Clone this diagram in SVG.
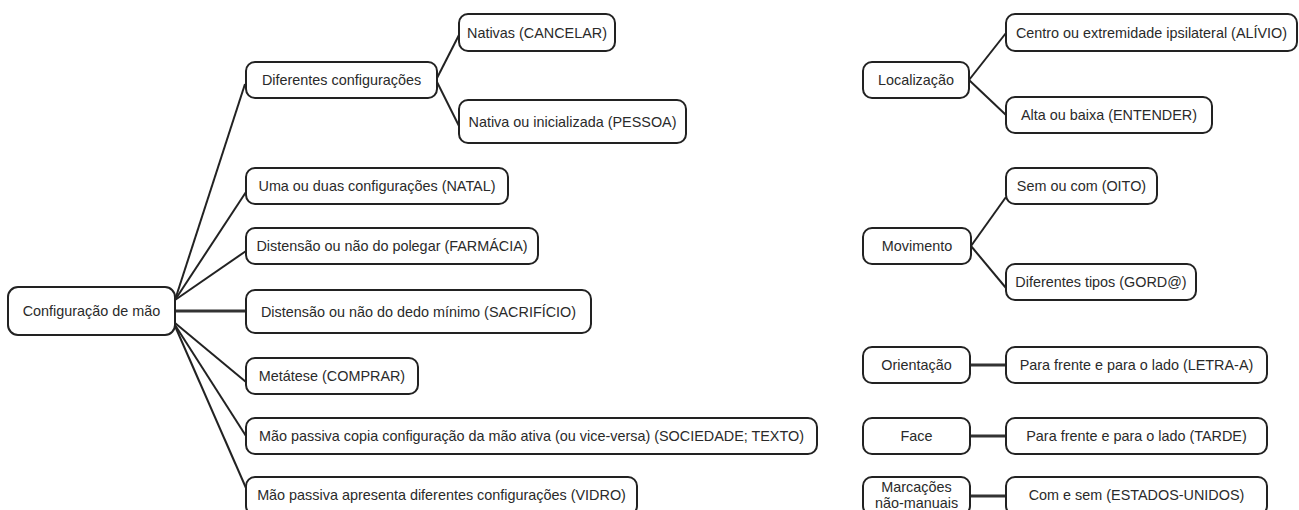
<svg xmlns="http://www.w3.org/2000/svg" width="1299" height="510" viewBox="0 0 1299 510">
<style>
.box{fill:#fff;stroke:#222;stroke-width:2}
.t{font-family:"Liberation Sans",Arial,sans-serif;font-size:14.4px;fill:#2a2a2a;text-anchor:middle;dominant-baseline:central}
.c{fill:none;stroke:#222;stroke-width:2}
.h{fill:none;stroke:#333;stroke-width:3}
</style>
<rect width="1299" height="510" fill="#fff"/>
<g id="connectors">
<path class="c" d="M175 300 L245 84"/>
<path class="c" d="M175 300 L246 192"/>
<path class="c" d="M175 300 L246 251"/>
<path class="h" d="M175 311 L246 311"/>
<path class="c" d="M175 323 L246 382"/>
<path class="c" d="M175 325 L246 436"/>
<path class="c" d="M175 326 L246 488"/>
<path class="c" d="M436 80 L460 33"/>
<path class="c" d="M436 80 L460 128"/>
<path class="c" d="M969 80 L1006 33"/>
<path class="c" d="M969 80 L1006 115"/>
<path class="c" d="M971 246 L1006 197"/>
<path class="c" d="M971 246 L1006 288"/>
<path class="h" d="M970 365 L1006 365"/>
<path class="h" d="M970 436 L1006 436"/>
<path class="h" d="M970 496 L1006 496"/>
</g>
<g id="root"><rect class="box" x="8" y="287" width="167" height="48" rx="10"/><text class="t" x="91.5" y="311">Configuração de mão</text></g>
<g id="n1"><rect class="box" x="246" y="62" width="191" height="36" rx="9"/><text class="t" x="341.5" y="80">Diferentes configurações</text></g>
<g id="n1a"><rect class="box" x="459" y="14" width="156" height="37" rx="9"/><text class="t" x="537" y="32.5">Nativas (CANCELAR)</text></g>
<g id="n1b"><rect class="box" x="459" y="100" width="227" height="43" rx="9"/><text class="t" x="572.5" y="121.5">Nativa ou inicializada (PESSOA)</text></g>
<g id="n2"><rect class="box" x="246" y="168" width="262" height="36" rx="9"/><text class="t" x="377" y="186">Uma ou duas configurações (NATAL)</text></g>
<g id="n3"><rect class="box" x="246" y="228" width="292" height="36" rx="9"/><text class="t" x="392" y="246">Distensão ou não do polegar (FARMÁCIA)</text></g>
<g id="n4"><rect class="box" x="246" y="290" width="345" height="43" rx="9"/><text class="t" x="418.5" y="311.5">Distensão ou não do dedo mínimo (SACRIFÍCIO)</text></g>
<g id="n5"><rect class="box" x="246" y="358" width="172" height="36" rx="9"/><text class="t" x="332" y="376">Metátese (COMPRAR)</text></g>
<g id="n6"><rect class="box" x="246" y="418" width="571" height="36" rx="9"/><text class="t" x="531.5" y="436">Mão passiva copia configuração da mão ativa (ou vice-versa) (SOCIEDADE; TEXTO)</text></g>
<g id="n7"><rect class="box" x="246" y="477" width="391" height="38" rx="9"/><text class="t" x="441.5" y="495">Mão passiva apresenta diferentes configurações (VIDRO)</text></g>
<g id="loc"><rect class="box" x="863" y="62" width="106" height="36" rx="9"/><text class="t" x="916" y="80">Localização</text></g>
<g id="loc1"><rect class="box" x="1006" y="14" width="291" height="37" rx="9"/><text class="t" x="1151.5" y="32.5">Centro ou extremidade ipsilateral (ALÍVIO)</text></g>
<g id="loc2"><rect class="box" x="1006" y="97" width="206" height="36" rx="9"/><text class="t" x="1109" y="115">Alta ou baixa (ENTENDER)</text></g>
<g id="mov"><rect class="box" x="863" y="228" width="108" height="36" rx="9"/><text class="t" x="917" y="246">Movimento</text></g>
<g id="mov1"><rect class="box" x="1006" y="168" width="151" height="36" rx="9"/><text class="t" x="1081.5" y="186">Sem ou com (OITO)</text></g>
<g id="mov2"><rect class="box" x="1006" y="264" width="190" height="36" rx="9"/><text class="t" x="1101" y="282">Diferentes tipos (GORD@)</text></g>
<g id="ori"><rect class="box" x="863" y="347" width="107" height="36" rx="9"/><text class="t" x="916.5" y="365">Orientação</text></g>
<g id="ori1"><rect class="box" x="1006" y="347" width="261" height="36" rx="9"/><text class="t" x="1136.5" y="365">Para frente e para o lado (LETRA-A)</text></g>
<g id="face"><rect class="box" x="863" y="418" width="107" height="36" rx="9"/><text class="t" x="916.5" y="436">Face</text></g>
<g id="face1"><rect class="box" x="1006" y="418" width="261" height="36" rx="9"/><text class="t" x="1136.5" y="436">Para frente e para o lado (TARDE)</text></g>
<g id="mar"><rect class="box" x="863" y="477" width="107" height="38" rx="9"/><text class="t" x="916.5" y="487">Marcações</text><text class="t" x="916.5" y="503">não-manuais</text></g>
<g id="mar1"><rect class="box" x="1006" y="477" width="261" height="38" rx="9"/><text class="t" x="1136.5" y="495">Com e sem (ESTADOS-UNIDOS)</text></g>
</svg>
